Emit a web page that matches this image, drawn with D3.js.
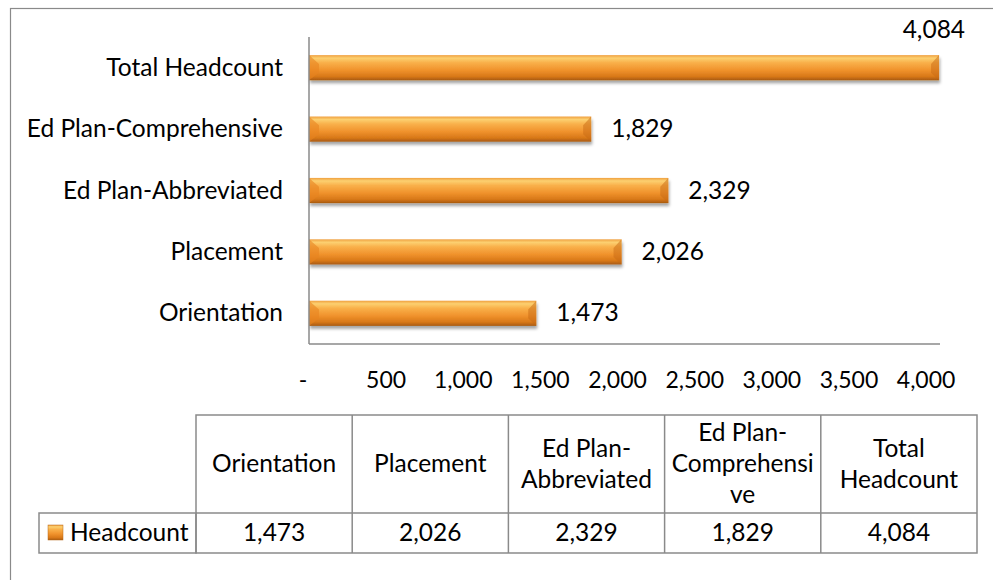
<!DOCTYPE html>
<html><head><meta charset="utf-8">
<script src="https://cdn.jsdelivr.net/npm/d3@7"></script>
<style>
body{margin:0;background:#fff;}
svg text{font-family:Lato,"Liberation Sans",sans-serif;fill:#000;}
</style>
</head><body><svg id="c" width="993" height="580"></svg>
<script>
// ---- data ----
const categories = ["Orientation", "Placement", "Ed Plan-Abbreviated", "Ed Plan-Comprehensive", "Total Headcount"];
const values = [1473, 2026, 2329, 1829, 4084];
const seriesName = "Headcount";
const tickValues = [0, 500, 1000, 1500, 2000, 2500, 3000, 3500, 4000];
const headerLines = [["Orientation"], ["Placement"], ["Ed Plan-", "Abbreviated"], ["Ed Plan-", "Comprehensi", "ve"], ["Total", "Headcount"]];

// ---- layout ----
const svg = d3.select("#c");
const FS = 24.5;
const TFS = 23;
const fmt = v => v === 0 ? "-" : d3.format(",")(v);
const gridColor = "#8a8a8a";

const defs = svg.append("defs");
const grad = defs.append("linearGradient").attr("id", "barGrad").attr("x1", 0).attr("x2", 0).attr("y1", 0).attr("y2", 1);
[[0, "#f0a040"], [0.12, "#fcd070"], [0.3, "#f9b04a"], [0.6, "#f0922c"], [0.85, "#d87818"], [1, "#a85a10"]]
  .forEach(([o, c]) => grad.append("stop").attr("offset", o).attr("stop-color", c));
const sh = defs.append("filter").attr("id", "shadow").attr("x", "-5%").attr("y", "-30%").attr("width", "110%").attr("height", "180%");
sh.append("feDropShadow").attr("dx", 1).attr("dy", 3).attr("stdDeviation", 1.8).attr("flood-color", "#000").attr("flood-opacity", 0.35);

// outer frame
svg.append("rect").attr("x", 10.5).attr("y", 8.5).attr("width", 1000).attr("height", 600)
  .attr("fill", "none").attr("stroke", gridColor).attr("stroke-width", 1.2);

const x = d3.scaleLinear().domain([0, 4090]).range([309, 940]);
const y = d3.scaleBand().domain(categories.slice().reverse()).range([37, 344])
  .paddingInner(0.59).paddingOuter(0.295);

// bars
const data = categories.map((c, i) => ({c, v: values[i]}));
svg.append("g").selectAll("rect").data(data).join("rect")
  .attr("x", x(0)).attr("y", d => y(d.c))
  .attr("width", d => x(d.v) - x(0)).attr("height", y.bandwidth())
  .attr("fill", "url(#barGrad)").attr("filter", "url(#shadow)");
// bevel at ends
svg.append("g").selectAll("path").data(data).join("path")
  .attr("d", d => {
    const x0 = x(0), y0 = y(d.c), h = y.bandwidth();
    return `M${x0},${y0}L${x0 + 10},${y0 + h * 0.35}L${x0 + 10},${y0 + h * 0.7}L${x0},${y0 + h}Z`;
  })
  .attr("fill", "#e88420").attr("opacity", 0.6);
svg.append("g").selectAll("path").data(data).join("path")
  .attr("d", d => {
    const x1 = x(d.v), y0 = y(d.c), h = y.bandwidth();
    return `M${x1},${y0}L${x1 - 8},${y0 + h * 0.35}L${x1 - 8},${y0 + h * 0.7}L${x1},${y0 + h}Z`;
  })
  .attr("fill", "#c86a14").attr("opacity", 0.5);

// axes lines
svg.append("line").attr("x1", x(0)).attr("x2", x(0)).attr("y1", 37).attr("y2", 344)
  .attr("stroke", gridColor).attr("stroke-width", 1.5);
svg.append("line").attr("x1", x(0)).attr("x2", 940).attr("y1", 344).attr("y2", 344)
  .attr("stroke", gridColor).attr("stroke-width", 1.5);

// category labels
svg.append("g").selectAll("text").data(categories).join("text")
  .attr("x", 283).attr("y", d => y(d) + y.bandwidth() / 2 + 8)
  .attr("text-anchor", "end").attr("font-size", FS).text(d => d);

// tick labels
svg.append("g").selectAll("text").data(tickValues).join("text")
  .attr("x", d => d === 0 ? x(d) - 6 : x(d)).attr("y", 388)
  .attr("text-anchor", "middle").attr("font-size", TFS).text(fmt);

// value labels
svg.append("g").selectAll("text").data(data).join("text")
  .attr("font-size", FS)
  .each(function (d) {
    const t = d3.select(this).text(fmt(d.v));
    const w = this.getComputedTextLength();
    if (x(d.v) + 20 + w > 975) {
      t.attr("x", x(d.v) + 26).attr("y", y(d.c) - 17).attr("text-anchor", "end");
    } else {
      t.attr("x", x(d.v) + 20).attr("y", y(d.c) + y.bandwidth() / 2 + 8).attr("text-anchor", "start");
    }
  });

// data table
const tx = d3.scaleBand().domain(categories).range([196, 977]);
const rowTop = 415, rowMid = 513, rowBot = 553, legLeft = 39;
const tg = svg.append("g");
tg.append("rect").attr("x", tx.range()[0]).attr("y", rowTop).attr("width", tx.range()[1] - tx.range()[0])
  .attr("height", rowBot - rowTop).attr("fill", "none").attr("stroke", gridColor).attr("stroke-width", 1.5);
tg.append("rect").attr("x", legLeft).attr("y", rowMid).attr("width", tx.range()[0] - legLeft)
  .attr("height", rowBot - rowMid).attr("fill", "none").attr("stroke", gridColor).attr("stroke-width", 1.5);
tg.append("line").attr("x1", tx.range()[0]).attr("x2", tx.range()[1]).attr("y1", rowMid).attr("y2", rowMid)
  .attr("stroke", gridColor).attr("stroke-width", 1.5);
tg.selectAll("line.col").data(categories.slice(1)).join("line").attr("class", "col")
  .attr("x1", d => tx(d)).attr("x2", d => tx(d)).attr("y1", rowTop).attr("y2", rowBot)
  .attr("stroke", gridColor).attr("stroke-width", 1.5);

// header text
const lh = 31;
categories.forEach((c, i) => {
  const lines = headerLines[i];
  const cy = (rowTop + rowMid) / 2;
  const t = tg.append("text").attr("text-anchor", "middle").attr("font-size", FS);
  lines.forEach((l, j) => {
    t.append("tspan").attr("x", tx(c) + tx.bandwidth() / 2)
      .attr("y", cy + (j - (lines.length - 1) / 2) * lh + 8).text(l);
  });
});
// values row
tg.selectAll("text.val").data(data).join("text").attr("class", "val")
  .attr("x", d => tx(d.c) + tx.bandwidth() / 2).attr("y", (rowMid + rowBot) / 2 + 8)
  .attr("text-anchor", "middle").attr("font-size", FS).text(d => fmt(d.v));

// legend key + name
tg.append("rect").attr("x", 48).attr("y", 525).attr("width", 15).attr("height", 15)
  .attr("fill", "url(#barGrad)").attr("stroke", "#b86a18").attr("stroke-width", 0.5);
tg.append("text").attr("x", 70).attr("y", (rowMid + rowBot) / 2 + 8).attr("font-size", FS).text(seriesName);
</script>
</body></html>
